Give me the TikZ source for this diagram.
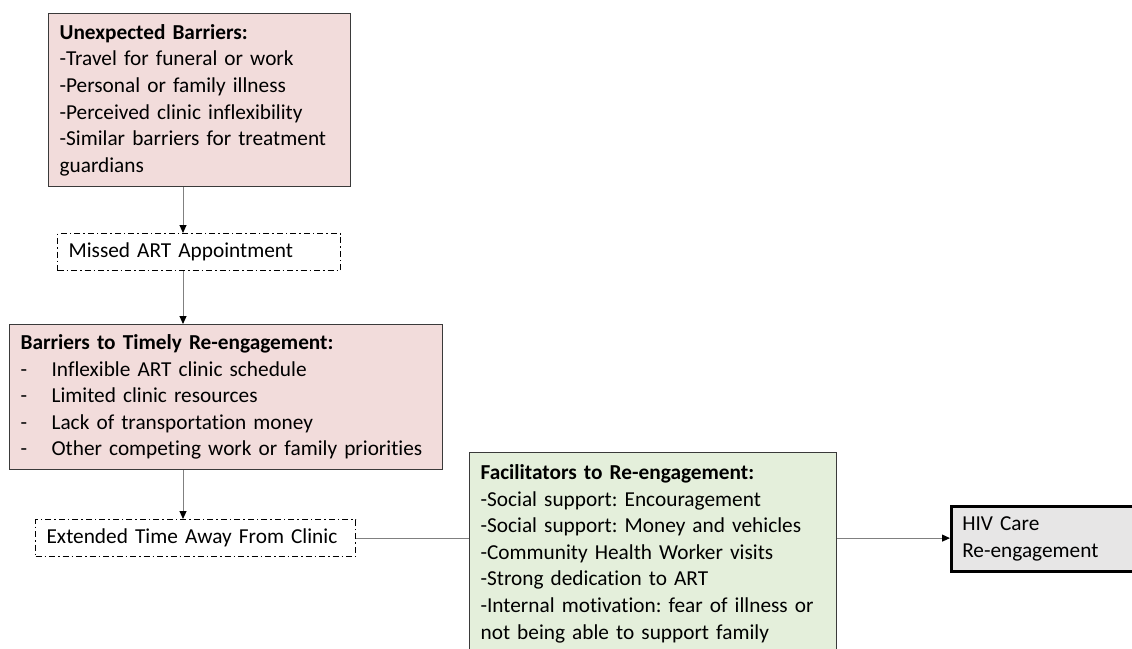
\documentclass[tikz,border=0pt]{standalone}
\usepackage{fontspec}
\setmainfont{Carlito}[Ligatures=NoCommon]
\usetikzlibrary{arrows.meta,positioning}
\definecolor{barrierpink}{HTML}{F2DCDB}
\definecolor{facilgreen}{HTML}{E4EFDB}
\definecolor{outcomegray}{HTML}{E7E6E6}
\definecolor{edgegray}{HTML}{3A3A3A}
\definecolor{linkgray}{HTML}{808080}
\frenchspacing

\begin{document}
\begin{tikzpicture}[
  x=1pt, y=-1pt,
  every node/.style={font=\fontsize{21.3}{26.6}\selectfont, align=left, inner xsep=11pt, inner ysep=0pt},
  barrier/.style={draw=edgegray, line width=1.2pt, fill=barrierpink},
  event/.style={draw=black, line width=1.2pt, dash pattern=on 6pt off 3pt on 1.5pt off 3pt},
  facilitator/.style={draw=edgegray, line width=1.2pt, fill=facilgreen, inner ysep=12pt, text depth=200pt},
  outcome/.style={draw=black, line width=2.5pt, fill=outcomegray},
  link/.style={draw=linkgray, line width=1pt},
  arrow/.style={link, -{Triangle[length=8pt,width=7pt,color=black]}}
]
  \useasboundingbox (0,0) rectangle (1132,648);
  \clip (0,0) rectangle (1132,648);
  \coordinate (spine) at (183,0);

  \node[barrier, anchor=north west, text width=280pt, minimum height=173pt] (unexp) at (48,13)
    {\textbf{Unexpected Barriers:}\\
     -Travel for funeral or work\\
     -Personal or family illness\\
     -Perceived clinic inflexibility\\
     -Similar barriers for treatment\\
     guardians};
  \node[event, anchor=north west, text width=261pt, minimum height=37pt] (missed) at (57,233)
    {Missed ART Appointment};
  \node[barrier, anchor=north west, text width=411pt, minimum height=145pt] (timely) at (9,324)
    {\textbf{Barriers to Timely Re-engagement:}\\
     \makebox[31pt][l]{-}Inflexible ART clinic schedule\\
     \makebox[31pt][l]{-}Limited clinic resources\\
     \makebox[31pt][l]{-}Lack of transportation money\\
     \makebox[31pt][l]{-}Other competing work or family priorities};
  \node[event, anchor=north west, text width=298pt, minimum height=37pt] (away) at (35,519)
    {Extended Time Away From Clinic};
  \node[facilitator, anchor=north west, text width=345pt] (facil) at (469,452)
    {\textbf{Facilitators to Re-engagement:}\\
     -Social support: Encouragement\\
     -Social support: Money and vehicles\\
     -Community Health Worker visits\\
     -Strong dedication to ART\\
     -Internal motivation: fear of illness or\\
     not being able to support family};
  \node[outcome, anchor=north west, text width=200pt, minimum height=65pt] (hiv) at (950,505)
    {HIV Care\\Re-engagement};

  \draw[arrow] (unexp.south -| spine) -- (missed.north -| spine);
  \draw[arrow] (missed.south -| spine) -- (timely.north -| spine);
  \draw[arrow] (timely.south -| spine) -- (away.north -| spine);
  \draw[link] (away.east) -- (away.east -| facil.west);
  \draw[arrow] (away.east -| facil.east) -- (away.east -| hiv.west);
\end{tikzpicture}
\end{document}
